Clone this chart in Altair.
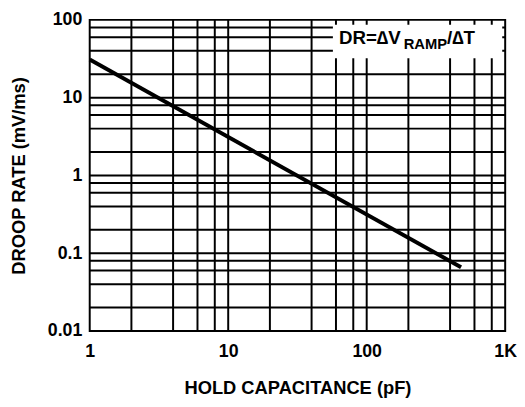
import altair as alt
import pandas as pd

# Data
cap_pf = [1, 480]
droop_mv_ms = [31, 0.066]

x_grid = [2, 4, 6, 8, 10, 20, 40, 60, 80, 100, 200, 400, 600, 800]
y_grid = [0.02, 0.04, 0.06, 0.08, 0.1, 0.2, 0.4, 0.6, 0.8, 1, 2, 4, 6, 8,
          10, 20, 40, 60, 80]
x_ticks = [1, 10, 100, 1000]
y_ticks = [0.01, 0.1, 1, 10, 100]

FONT = "Liberation Sans"

xs = alt.Scale(type="log", domain=[1, 1000], nice=False)
ys = alt.Scale(type="log", domain=[0.01, 100], nice=False)

x_axis = alt.Axis(
    values=x_ticks, grid=False, ticks=False, domain=False,
    labelExpr="datum.value >= 1000 ? '1K' : format(datum.value, '')",
    labelFont=FONT, labelFontSize=18, labelFontWeight="bold", labelColor="black",
    labelPadding=12, labelFlush=False, labelOverlap=False,
    title="HOLD CAPACITANCE (pF)", titleFont=FONT, titleFontSize=18.6,
    titleFontWeight="bold", titleColor="black",
    titleX=211, titleY=58, titleBaseline="middle", titleAlign="center",
)
y_axis = alt.Axis(
    values=y_ticks, grid=False, ticks=False, domain=False,
    labelExpr="format(datum.value, '')",
    labelFont=FONT, labelFontSize=18, labelFontWeight="bold", labelColor="black",
    labelPadding=8, labelFlush=False, labelOverlap=False,
    title="DROOP RATE (mV/ms)", titleFont=FONT, titleFontSize=18.6,
    titleFontWeight="bold", titleColor="black",
    titleX=-72, titleY=158, titleAngle=270, titleBaseline="middle",
    titleAlign="center",
)

line_df = pd.DataFrame({"c": cap_pf, "dr": droop_mv_ms})
xg_df = pd.DataFrame({"c": x_grid})
yg_df = pd.DataFrame({"dr": y_grid})

vgrid = alt.Chart(xg_df).mark_rule(color="black", strokeWidth=2).encode(
    x=alt.X("c:Q", scale=xs, axis=x_axis)
)
hgrid = alt.Chart(yg_df).mark_rule(color="black", strokeWidth=2).encode(
    y=alt.Y("dr:Q", scale=ys, axis=y_axis)
)

# annotation box (white background covering the grid) and its text
ann_box = pd.DataFrame({"x1": [57], "x2": [952], "y1": [86.5], "y2": [32]})
box = alt.Chart(ann_box).mark_rect(fill="white").encode(
    x=alt.X("x1:Q", scale=xs, axis=x_axis), x2="x2:Q",
    y=alt.Y("y1:Q", scale=ys, axis=y_axis), y2="y2:Q",
)

ann_text = pd.DataFrame({
    "t": ["DR=\u2206V", "RAMP", "/\u2206T"],
    "x": [63, 185, 380],
    "y": [48.3, 41.7, 48.3],
    "size": [19, 15, 19],
})
texts = alt.Chart(ann_text).mark_text(
    align="left", baseline="alphabetic", font=FONT, fontWeight="bold", color="black"
).encode(
    x=alt.X("x:Q", scale=xs, axis=x_axis),
    y=alt.Y("y:Q", scale=ys, axis=y_axis),
    text="t:N",
    size=alt.Size("size:Q", scale=None, legend=None),
)

line = alt.Chart(line_df).mark_line(color="black", strokeWidth=4, strokeCap="butt").encode(
    x=alt.X("c:Q", scale=xs, axis=x_axis),
    y=alt.Y("dr:Q", scale=ys, axis=y_axis),
)

chart = alt.layer(vgrid, hgrid, box, texts, line).properties(
    width=422, height=316,
    autosize=alt.AutoSizeParams(type="none"),
    padding={"left": 83, "top": 9, "right": 12, "bottom": 66},
    background="white",
).configure_view(stroke="black", strokeWidth=2)

chart.save("out.html", embed_options={"renderer": "svg", "actions": False})
